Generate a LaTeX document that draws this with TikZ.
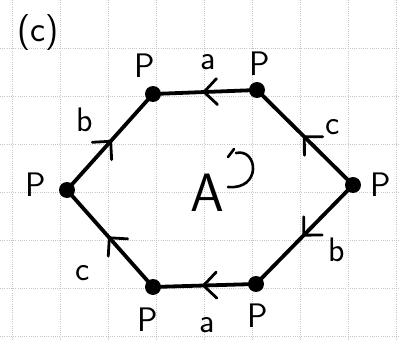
\documentclass[tikz,border=0pt]{standalone}
\usetikzlibrary{decorations.markings}
\begin{document}
\begin{tikzpicture}[x=1pt,y=-1pt,
  edge/.style={line width=3.8pt, line cap=round, postaction={decorate},
    decoration={markings, mark=at position 0.5 with {\draw[line width=2.8pt, line cap=round, line join=round] (-12pt,13pt) -- (1pt,0pt) -- (-12pt,-13pt);}}},
  vtx/.style={circle, fill=black, inner sep=0pt, minimum size=16pt},
  lbl/.style={font=\sffamily\fontsize{34}{36}\selectfont, inner sep=0pt},
  gridline/.style={gray!45, dash pattern=on 0.8pt off 1.4pt, line width=0.6pt}]
\useasboundingbox (0,0) rectangle (400,340);
\fill[white] (0,0) rectangle (400,340);
% graph paper
\foreach \gx in {12,60,108,156,204,252,300,348,396} \draw[gridline] (\gx,0) -- (\gx,340);
\foreach \gy in {48,96,144,192,240,288,336} \draw[gridline] (0,\gy) -- (400,\gy);
% vertices
\node[vtx] (tl) at (153,94) {};
\node[vtx] (tr) at (257,90) {};
\node[vtx] (r)  at (353,185) {};
\node[vtx] (br) at (256,284) {};
\node[vtx] (bl) at (153,287) {};
\node[vtx] (l)  at (67,190) {};
% edges
\draw[edge] (tr.center) -- (tl.center);
\draw[edge] (l.center) -- (tl.center);
\draw[edge] (r.center) -- (tr.center);
\draw[edge] (r.center) -- (br.center);
\draw[edge] (br.center) -- (bl.center);
\draw[edge] (bl.center) -- (l.center);
% labels
\node[lbl, font=\sffamily\fontsize{36}{38}\selectfont] (title) at (38,33) {(c)};
\node[lbl] (ptl) at (145,66) {P};
\node[lbl] (atop) at (208,62) {a};
\node[lbl] (ptr) at (260,64) {P};
\node[lbl] (bup) at (85,120) {b};
\node[lbl] (cup) at (333,127) {c};
\node[lbl] (pl) at (36,185) {P};
\node[lbl] (pr) at (381,185) {P};
\node[lbl] (blow) at (337,250) {b};
\node[lbl] (clow) at (83,273) {c};
\node[lbl] (pbl) at (148,320) {P};
\node[lbl] (abot) at (207,325) {a};
\node[lbl] (pbr) at (258,316) {P};
\node[lbl, font=\sffamily\fontsize{54}{56}\selectfont] (bigA) at (207,193) {A};
% orientation mark
\draw[line width=2.6pt, line cap=round] (228,187) .. controls (262,190) and (258,148) .. (236,153);
\draw[line width=2.6pt, line cap=round] (228,157) -- (234,149);
\end{tikzpicture}
\end{document}
